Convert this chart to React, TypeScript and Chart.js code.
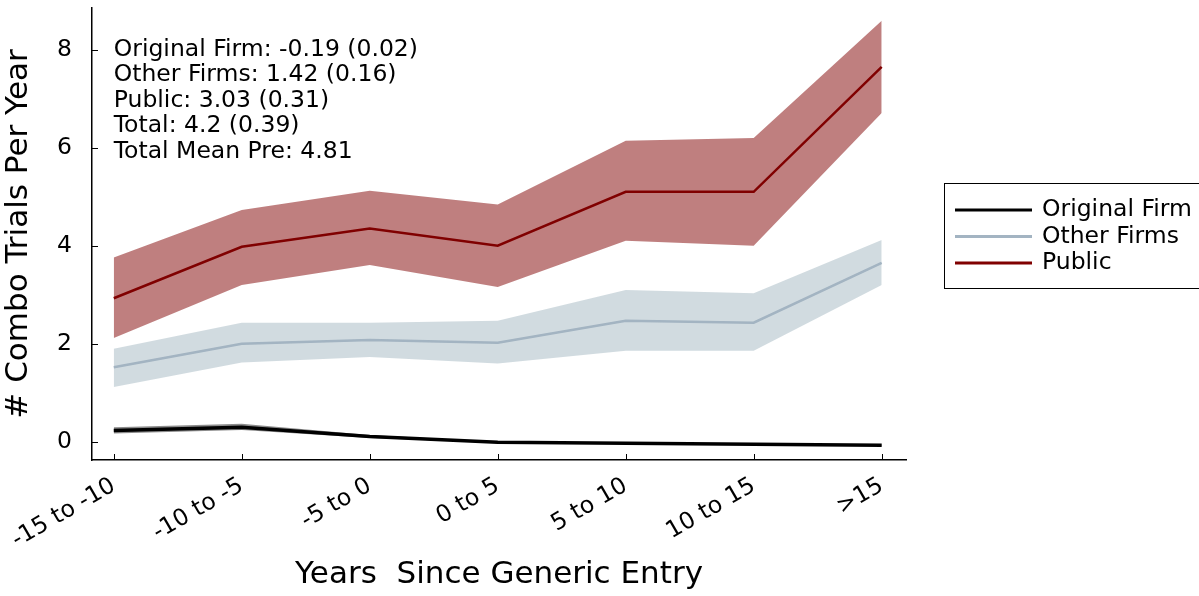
import React, { useEffect, useRef } from "react";
import { Chart, registerables } from "chart.js";

Chart.register(...registerables);

const categories = ["-15 to -10", "-10 to -5", "-5 to 0", "0 to 5", "5 to 10", "10 to 15", ">15"];

const originalMean = [0.23, 0.30, 0.11, -0.01, -0.03, -0.05, -0.07];
const originalHigh = [0.30, 0.37, 0.14, 0.00, -0.02, -0.04, -0.06];
const originalLow = [0.17, 0.24, 0.08, -0.02, -0.04, -0.06, -0.08];

const otherMean = [1.52, 2.0, 2.08, 2.02, 2.47, 2.43, 3.65];
const otherHigh = [1.9, 2.43, 2.43, 2.47, 3.1, 3.03, 4.12];
const otherLow = [1.12, 1.62, 1.73, 1.6, 1.86, 1.86, 3.2];

const publicMean = [2.93, 3.98, 4.35, 4.0, 5.1, 5.1, 7.65];
const publicHigh = [3.76, 4.73, 5.12, 4.84, 6.14, 6.2, 8.59];
const publicLow = [2.12, 3.2, 3.61, 3.16, 4.1, 4.0, 6.71];

const yTicks = [0, 2, 4, 6, 8];

const seriesNames = ["Original Firm", "Other Firms", "Public"];
const seriesColors = ["#000000", "#a3b4c2", "#800000"];
const bandColors = ["rgba(0,0,0,0.45)", "rgba(163,184,194,0.5)", "rgba(128,0,0,0.5)"];

const annotationLines = [
  "Original Firm: -0.19 (0.02)",
  "Other Firms: 1.42 (0.16)",
  "Public: 3.03 (0.31)",
  "Total: 4.2 (0.39)",
  "Total Mean Pre: 4.81",
];
const annotationAnchor = { x: 0, y: 8 };

const FONT = "'DejaVu Sans', sans-serif";
const SMALL = 23.5;
const BIG = 31;

const pts = (arr: number[]) => arr.map((v, i) => ({ x: i, y: v }));

const overlayPlugin = {
  id: "overlay",
  afterDraw(chart: any) {
    const { ctx, chartArea, scales } = chart;
    const xs = scales.x;
    const ys = scales.y;
    ctx.save();
    // inward ticks
    ctx.strokeStyle = "#000";
    ctx.lineWidth = 1;
    ctx.beginPath();
    yTicks.forEach((t) => {
      const py = Math.round(ys.getPixelForValue(t)) + 0.5;
      ctx.moveTo(chartArea.left, py);
      ctx.lineTo(chartArea.left + 6, py);
    });
    categories.forEach((_, i) => {
      const px = Math.round(xs.getPixelForValue(i)) + 0.5;
      ctx.moveTo(px, chartArea.bottom);
      ctx.lineTo(px, chartArea.bottom - 6);
    });
    ctx.stroke();

    // annotation
    ctx.fillStyle = "#000";
    ctx.font = `${SMALL}px ${FONT}`;
    ctx.textAlign = "left";
    ctx.textBaseline = "middle";
    const ax = xs.getPixelForValue(annotationAnchor.x);
    const ay = ys.getPixelForValue(annotationAnchor.y);
    annotationLines.forEach((line, i) => {
      ctx.fillText(line, ax, ay + i * 25.5);
    });

    // legend
    const boxL = chartArea.right + 38;
    const boxT = (chartArea.top + chartArea.bottom) / 2 - 51;
    const boxW = 262;
    const boxH = 105;
    ctx.fillStyle = "#fff";
    ctx.fillRect(boxL, boxT, boxW, boxH);
    ctx.strokeStyle = "#000";
    ctx.lineWidth = 1;
    ctx.strokeRect(Math.round(boxL) + 0.5, Math.round(boxT) + 0.5, boxW, boxH);
    seriesNames.forEach((name, i) => {
      const ly = boxT + 27 + i * 26.5;
      ctx.strokeStyle = seriesColors[i];
      ctx.lineWidth = 3;
      ctx.beginPath();
      ctx.moveTo(boxL + 11, ly);
      ctx.lineTo(boxL + 88, ly);
      ctx.stroke();
      ctx.fillStyle = "#000";
      ctx.font = `${SMALL}px ${FONT}`;
      ctx.textAlign = "left";
      ctx.textBaseline = "middle";
      ctx.fillText(name, boxL + 98, ly);
    });
    ctx.restore();
  },
};

export default function App() {
  const ref = useRef<HTMLCanvasElement | null>(null);
  useEffect(() => {
    if (!ref.current) return;
    const band = (hi: number[], lo: number[], color: string) => [
      {
        data: pts(hi),
        borderWidth: 0,
        pointRadius: 0,
        backgroundColor: color,
        borderColor: "transparent",
        fill: "+1",
        order: 2,
      },
      {
        data: pts(lo),
        borderWidth: 0,
        pointRadius: 0,
        borderColor: "transparent",
        fill: false,
        order: 2,
      },
    ];
    const line = (vals: number[], color: string, width: number) => ({
      data: pts(vals),
      borderColor: color,
      borderWidth: width,
      pointRadius: 0,
      fill: false,
      order: 0,
    });
    const chart = new Chart(ref.current, {
      type: "line",
      data: {
        datasets: [
          ...band(publicHigh, publicLow, bandColors[2]),
          ...band(otherHigh, otherLow, bandColors[1]),
          ...band(originalHigh, originalLow, bandColors[0]),
          line(publicMean, seriesColors[2], 2.5),
          line(otherMean, seriesColors[1], 2.5),
          line(originalMean, seriesColors[0], 3.5),
        ] as any,
      },
      options: {
        animation: false,
        responsive: true,
        maintainAspectRatio: false,
        layout: { padding: { top: 8, right: 293, left: 0, bottom: 0 } },
        plugins: { legend: { display: false }, tooltip: { enabled: false } },
        elements: { line: { tension: 0 } },
        scales: {
          x: {
            type: "linear",
            min: -0.17,
            max: 6.19,
            afterBuildTicks: (s: any) => {
              s.ticks = categories.map((_, i) => ({ value: i }));
            },
            afterFit: (s: any) => {
              s.height = 136;
              s.paddingLeft = 0;
              s.paddingRight = 0;
            },
            grid: { display: false, drawTicks: false },
            border: { display: true, color: "#000", width: 1.5 },
            ticks: {
              autoSkip: false,
              minRotation: 30,
              maxRotation: 30,
              padding: 12,
              color: "#000",
              font: { family: FONT, size: SMALL },
              callback: (v: any) => categories[v] ?? "",
            },
            title: {
              display: true,
              text: "Years  Since Generic Entry",
              color: "#000",
              font: { family: FONT, size: BIG },
              padding: { top: 0, bottom: 2 },
            },
          },
          y: {
            type: "linear",
            min: -0.37,
            max: 8.85,
            afterBuildTicks: (s: any) => {
              s.ticks = yTicks.map((v) => ({ value: v }));
            },
            afterFit: (s: any) => {
              s.width = 92;
              s.paddingTop = 0;
              s.paddingBottom = 0;
            },
            grid: { display: false, drawTicks: false },
            border: { display: true, color: "#000", width: 1.5 },
            ticks: {
              padding: 20,
              color: "#000",
              font: { family: FONT, size: SMALL },
            },
            title: {
              display: true,
              text: "# Combo Trials Per Year",
              color: "#000",
              font: { family: FONT, size: BIG },
              padding: { top: 0, bottom: 0 },
            },
          },
        },
      },
      plugins: [overlayPlugin],
    });
    return () => chart.destroy();
  }, []);
  return (
    <div style={{ position: "fixed", left: 0, top: 0, width: 1199, height: 596, background: "#fff" }}>
      <canvas ref={ref} />
    </div>
  );
}
